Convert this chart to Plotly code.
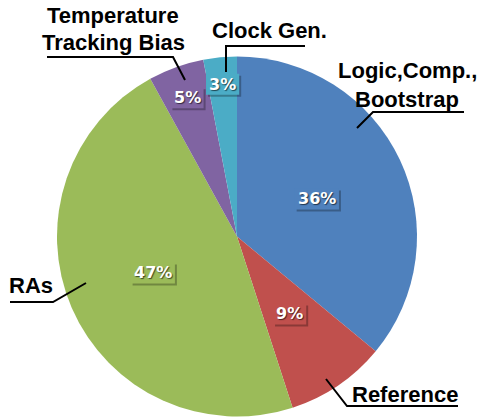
import math
import plotly.graph_objects as go

# Power breakdown by block
categories = ["Logic,Comp.,<br>Bootstrap", "Reference", "RAs", "Temperature<br>Tracking Bias", "Clock Gen."]
shares = [36, 9, 47, 5, 3]
colors = ["#4F81BD", "#C0504D", "#9BBB59", "#8064A2", "#4BACC6"]

W, H = 482, 419
CX, CY, R = 237, 236.5, 180
PCT_SIZE = 16

def px(x, y):
    return x / W, 1 - y / H

fig = go.Figure(go.Pie(
    values=shares,
    labels=[c.replace("<br>", " ") for c in categories],
    marker=dict(colors=colors, line=dict(width=0)),
    sort=False,
    direction="clockwise",
    rotation=0,
    textinfo="none",
    hoverinfo="none",
    showlegend=False,
    domain=dict(x=[(CX - R) / W, (CX + R) / W], y=[1 - (CY + R) / H, 1 - (CY - R) / H]),
))

annotations = []
shapes = []

# Percentage labels placed along each slice's bisector, on a small box with a drop shadow
label_radius = [0.49, 0.52, 0.51, 0.82, 0.85]
total = sum(shares)
acc = 0
for v, col, rf in zip(shares, colors, label_radius):
    mid = (acc + v / 2) / total * 2 * math.pi
    acc += v
    lx = CX + rf * R * math.sin(mid)
    ly = CY - rf * R * math.cos(mid)
    txt = f"{v}%"
    bw = PCT_SIZE * (0.696 * len(str(v)) + 1.002) + 6
    bh = 21
    x0, y0 = px(lx - bw / 2 + 2, ly - bh / 2 + 2)
    x1, y1 = px(lx + bw / 2 + 2, ly + bh / 2 + 2)
    shapes.append(dict(type="rect", xref="paper", yref="paper", x0=x0, x1=x1, y0=y0, y1=y1,
                       fillcolor="rgba(0,0,0,0.28)", line=dict(width=0), layer="above"))
    x0, y0 = px(lx - bw / 2, ly - bh / 2)
    x1, y1 = px(lx + bw / 2, ly + bh / 2)
    shapes.append(dict(type="rect", xref="paper", yref="paper", x0=x0, x1=x1, y0=y0, y1=y1,
                       fillcolor=col, line=dict(width=0), layer="above"))
    x, y = px(lx, ly)
    annotations.append(dict(text=txt, x=x, y=y, xref="paper", yref="paper", showarrow=False,
                            xanchor="center", yanchor="middle",
                            font=dict(family="DejaVu Sans", size=PCT_SIZE, color="white", weight="bold",
                                      shadow="1px 1px 1px rgba(0,0,0,0.6)")))

# Category labels (one annotation per text line) with leader lines
label_lines = [
    (categories[0], 407, [70, 100]),
    (categories[1], 405, [394]),
    (categories[2], 31, [285]),
    (categories[3], 113, [15.5, 42.5]),
    (categories[4], 269, [30]),
]
for name, xc, ys in label_lines:
    for line, yc in zip(name.split("<br>"), ys):
        x, y = px(xc, yc)
        annotations.append(dict(text=line, x=x, y=y, xref="paper", yref="paper", showarrow=False,
                                xanchor="center", yanchor="middle",
                                font=dict(family="Liberation Sans", size=22, color="black", weight="bold")))

leaders = [
    [(464, 112), (373, 112), (357, 128)],
    [(458, 406), (347, 406), (326, 379)],
    [(10, 302), (53, 302), (86, 283)],
    [(47, 57), (173, 57), (185, 80)],
    [(305, 46), (226, 46), (226, 72)],
]
for pts in leaders:
    path = "M " + " L ".join(f"{px(a, b)[0]},{px(a, b)[1]}" for a, b in pts)
    shapes.append(dict(type="path", path=path, xref="paper", yref="paper",
                       line=dict(color="black", width=2)))

fig.update_layout(
    width=W, height=H,
    margin=dict(l=0, r=0, t=0, b=0),
    paper_bgcolor="white",
    plot_bgcolor="white",
    annotations=annotations,
    shapes=shapes,
)

fig.write_html("out.html")
